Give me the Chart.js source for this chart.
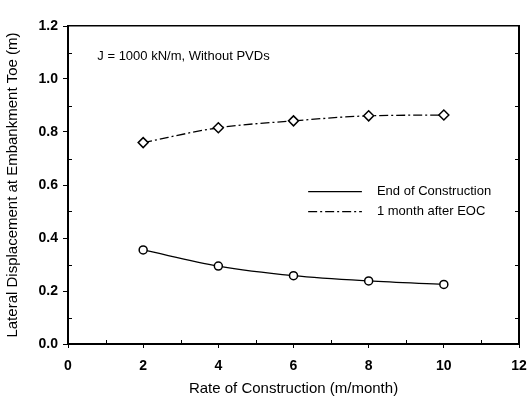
<!DOCTYPE html>
<html>
<head>
<meta charset="utf-8">
<script src="https://cdn.jsdelivr.net/npm/chart.js@4"></script>
<style>
  html, body { margin: 0; padding: 0; background: #fff; }
  #wrap { width: 527px; height: 402px; }
</style>
</head>
<body>
<div id="wrap"><canvas id="lateralChart" width="527" height="402"></canvas></div>
<script>
// values
const rates = [2, 4, 6, 8, 10];
const endOfConstruction = [0.355, 0.294, 0.258, 0.238, 0.225];
const oneMonthAfterEOC = [0.760, 0.816, 0.842, 0.861, 0.864];
const seriesLabels = ['End of Construction', '1 month after EOC'];
const xTicks = [0, 2, 4, 6, 8, 10, 12];
const yTicks = [0.0, 0.2, 0.4, 0.6, 0.8, 1.0, 1.2];
const note = 'J = 1000 kN/m, Without PVDs';

const FONT = 'Liberation Sans, Arial, Helvetica, sans-serif';

function toPoints(ys) {
    return rates.map((r, i) => ({ x: r, y: ys[i] }));
}

// small inward minor ticks, plus the note and the inset legend
const decorPlugin = {
    id: 'decor',
    afterDraw(chart) {
        const ctx = chart.ctx;
        const area = chart.chartArea;
        const y = chart.scales.y;
        const x = chart.scales.x;
        ctx.save();
        ctx.strokeStyle = '#000';
        ctx.lineWidth = 1;
        for (let v = 0.1; v < 1.2; v += 0.2) {
            const py = Math.round(y.getPixelForValue(v)) + 0.5;
            ctx.beginPath();
            ctx.moveTo(area.left, py); ctx.lineTo(area.left + 4, py);
            ctx.moveTo(area.right, py); ctx.lineTo(area.right - 4, py);
            ctx.stroke();
        }
        for (let v = 1; v < 12; v += 2) {
            const px = Math.round(x.getPixelForValue(v)) + 0.5;
            ctx.beginPath();
            ctx.moveTo(px, area.bottom); ctx.lineTo(px, area.bottom - 4);
            ctx.stroke();
        }

        // note text
        ctx.fillStyle = '#000';
        ctx.font = '13px ' + FONT;
        ctx.textBaseline = 'middle';
        ctx.fillText(note, x.getPixelForValue(0.78), y.getPixelForValue(1.087));

        // inset legend
        chart.data.datasets.forEach((ds, i) => {
            const ly = y.getPixelForValue(0.575) + i * 20;
            const x0 = x.getPixelForValue(6.39);
            const x1 = x.getPixelForValue(7.82);
            ctx.beginPath();
            ctx.setLineDash(ds.borderDash || []);
            ctx.lineWidth = ds.borderWidth;
            ctx.moveTo(x0, ly); ctx.lineTo(x1, ly);
            ctx.stroke();
            ctx.setLineDash([]);
            ctx.font = '13px ' + FONT;
            ctx.fillText(ds.label, x.getPixelForValue(8.22), ly);
        });
        ctx.restore();
    }
};

const ctx = document.getElementById('lateralChart').getContext('2d');
new Chart(ctx, {
    type: 'scatter',
    data: {
        datasets: [
            {
                label: seriesLabels[0],
                data: toPoints(endOfConstruction),
                showLine: true,
                borderColor: '#000',
                borderWidth: 1.3,
                backgroundColor: '#fff',
                pointStyle: 'circle',
                pointRadius: 4,
                pointBorderWidth: 1.5,
                pointBorderColor: '#000',
                pointBackgroundColor: '#fff',
                cubicInterpolationMode: 'monotone'
            },
            {
                label: seriesLabels[1],
                data: toPoints(oneMonthAfterEOC),
                showLine: true,
                borderColor: '#000',
                borderWidth: 1.3,
                borderDash: [9, 3, 2, 3],
                backgroundColor: '#fff',
                pointStyle: 'rectRot',
                pointRadius: 5,
                pointBorderWidth: 1.5,
                pointBorderColor: '#000',
                pointBackgroundColor: '#fff',
                cubicInterpolationMode: 'monotone'
            }
        ]
    },
    options: {
        responsive: false,
        animation: false,
        layout: { padding: { top: 26, right: 0, left: 0, bottom: 0 } },
        plugins: {
            legend: { display: false },
            tooltip: { enabled: false }
        },
        scales: {
            x: {
                type: 'linear',
                min: 0, max: 12,
                afterBuildTicks: s => { s.ticks = xTicks.map(v => ({ value: v })); },
                afterFit: s => { s.height = 58; s.paddingRight = 8; },
                border: { color: '#000', width: 2 },
                grid: { drawOnChartArea: false, color: '#000', tickLength: 4 },
                ticks: { color: '#000', font: { family: FONT, size: 14, weight: 'bold' }, padding: 10, maxRotation: 0 },
                title: { display: true, text: 'Rate of Construction (m/month)', color: '#000', font: { family: FONT, size: 15 }, padding: { top: 3 } }
            },
            x2: {
                type: 'linear', position: 'top', min: 0, max: 12,
                afterFit: s => { s.height = 0; s.paddingRight = 0; s.paddingLeft = 0; },
                border: { color: '#000', width: 1.5 },
                grid: { drawOnChartArea: false, drawTicks: false },
                ticks: { display: false }
            },
            y: {
                min: 0, max: 1.2,
                afterBuildTicks: s => { s.ticks = yTicks.map(v => ({ value: v })); },
                afterFit: s => { s.width = 68; },
                border: { color: '#000', width: 2 },
                grid: { drawOnChartArea: false, color: '#000', tickLength: 5 },
                ticks: { color: '#000', font: { family: FONT, size: 14, weight: 'bold' }, padding: 5, callback: v => v.toFixed(1) },
                title: { display: true, text: 'Lateral Displacement at Embankment Toe (m)', color: '#000', font: { family: FONT, size: 15 }, padding: { bottom: 4 } }
            },
            y2: {
                position: 'right', min: 0, max: 1.2,
                afterFit: s => { s.width = 0; },
                border: { color: '#000', width: 2 },
                grid: { drawOnChartArea: false, drawTicks: false },
                ticks: { display: false }
            }
        }
    },
    plugins: [decorPlugin]
});
</script>
</body>
</html>
